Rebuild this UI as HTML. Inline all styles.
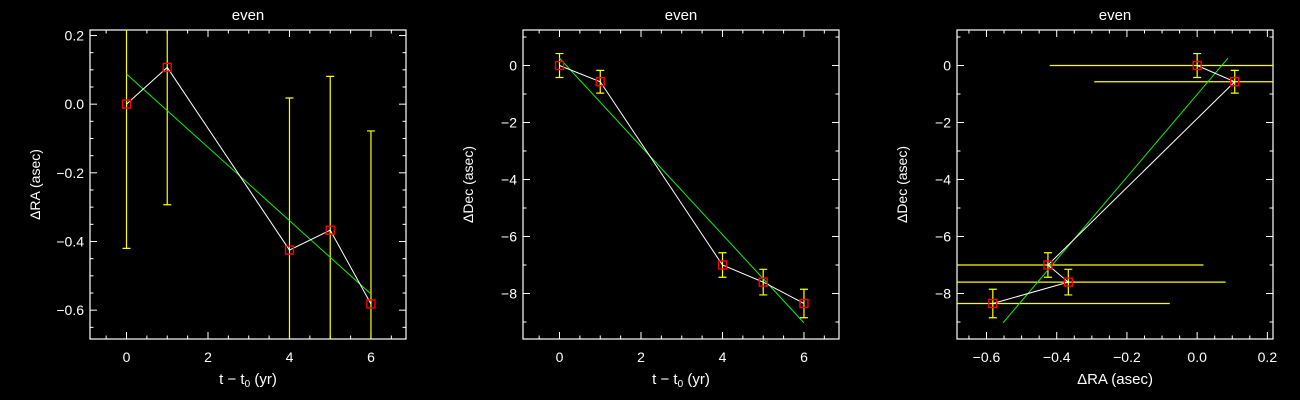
<!DOCTYPE html>
<html><head><meta charset="utf-8"><style>
html,body{margin:0;padding:0;background:#000;width:1300px;height:400px;overflow:hidden;}
svg{display:block;font-family:"Liberation Sans","DejaVu Sans",sans-serif;}
</style></head><body>
<svg id="c" width="1300" height="400"></svg>
<script>
const years=[0,1,4,5,6];
const dRA=[0,0.107,-0.425,-0.367,-0.582];
const dRAerr=[0.42,0.40,0.443,0.448,0.504];
const dDec=[0,-0.57,-7.0,-7.6,-8.35];
const dDecErr=[0.42,0.40,0.43,0.45,0.5];
const fitT=[0,6];
const fitRA=[0.088,-0.553];
const fitDec=[0.26,-9.03];
const raTicks=[-0.6,-0.4,-0.2,0.0,0.2];
const raLabels=["\u22120.6","\u22120.4","\u22120.2","0.0","0.2"];
const decTicks=[-8,-6,-4,-2,0];
const decLabels=["\u22128","\u22126","\u22124","\u22122","0"];
const tTicks=[0,2,4,6];
const tLabels=["0","2","4","6"];

const NS="http://www.w3.org/2000/svg";
const svg=document.getElementById('c');
function mk(tag,at,parent){const e=document.createElementNS(NS,tag);for(const k in at)e.setAttribute(k,at[k]);(parent||svg).appendChild(e);return e;}

const RAR=[-0.684,0.216], DECR=[-9.596,1.246], TR=[-0.896,6.86];
function panel(idx,x0,xr,yr,xt,xl,xminor,yt,yl,yminor,ylab,xlabHTML){
  const L=x0,R=x0+316,T=30,B=339;
  const g=mk('g',{});
  
  
  const sx=v=>L+(v-xr[0])/(xr[1]-xr[0])*(R-L);
  const sy=v=>B-(v-yr[0])/(yr[1]-yr[0])*(B-T);
  const clip=mk('clipPath',{id:'cl'+idx},g);
  mk('rect',{x:L,y:T,width:R-L,height:B-T},clip);
  const fr=mk('rect',{x:L,y:T,width:R-L,height:B-T,fill:'none',stroke:'#fff','stroke-width':1.2},g);
  
  const tg=mk('g',{stroke:'#fff','stroke-width':1},g);
  for(let v=Math.ceil(xr[0]/xminor)*xminor;v<=xr[1];v+=xminor){
    const maj=xt.some(t=>Math.abs(t-v)<1e-6);const len=maj?7:3.5;const x=sx(v);
    mk('line',{x1:x,y1:B,x2:x,y2:B-len},tg);mk('line',{x1:x,y1:T,x2:x,y2:T+len},tg);
  }
  for(let v=Math.ceil(yr[0]/yminor)*yminor;v<=yr[1];v+=yminor){
    const maj=yt.some(t=>Math.abs(t-v)<1e-6);const len=maj?7:3.5;const y=sy(v);
    mk('line',{x1:L,y1:y,x2:L+len,y2:y},tg);mk('line',{x1:R,y1:y,x2:R-len,y2:y},tg);
  }
  xt.forEach((v,i)=>{const t=mk('text',{x:sx(v),y:B+23,fill:'#fff','font-size':14,'text-anchor':'middle'},g);t.textContent=xl[i];
    });
  yt.forEach((v,i)=>{const t=mk('text',{x:L-6,y:sy(v)+5,fill:'#fff','font-size':14,'text-anchor':'end'},g);t.textContent=yl[i];
    });
  const ti=mk('text',{x:(L+R)/2,y:20,fill:'#fff','font-size':15,'text-anchor':'middle'},g);ti.textContent='even';
  
  const yx=L-50,ymid=(T+B)/2;
  const ya=mk('text',{x:yx,y:ymid,fill:'#fff','font-size':14,'text-anchor':'middle',transform:`rotate(-90 ${yx} ${ymid})`},g);ya.textContent=ylab;
  
  const xa=mk('text',{x:(L+R)/2,y:B+45,fill:'#fff','font-size':15,'text-anchor':'middle'},g);xa.innerHTML=xlabHTML;
  
  return {g,sx,sy,cp:'url(#cl'+idx+')'};
}
function series(p,xs,ys,xe,ye,fx,fy){
  const d=mk('g',{'clip-path':p.cp},p.g);
  
  xs.forEach((x,i)=>{
    const X=p.sx(x),Y=p.sy(ys[i]);
    if(ye){const a=p.sy(ys[i]+ye[i]),b=p.sy(ys[i]-ye[i]);
      const e=mk('path',{d:`M${X},${a}V${b}M${X-4},${a}h8M${X-4},${b}h8`,stroke:'#ff0',fill:'none','stroke-width':1.2},d);
      }
    if(xe){const a=p.sx(x-xe[i]),b=p.sx(x+xe[i]);
      const e=mk('line',{x1:a,y1:Y,x2:b,y2:Y,stroke:'#ff0','stroke-width':1.2},d);
      }
  });
  const f=mk('line',{x1:p.sx(fx[0]),y1:p.sy(fy[0]),x2:p.sx(fx[1]),y2:p.sy(fy[1]),stroke:'#1e1','stroke-width':1},d);
  
  const pl=mk('polyline',{points:xs.map((x,i)=>p.sx(x)+','+p.sy(ys[i])).join(' '),stroke:'#fff',fill:'none','stroke-width':1},d);
  
  xs.forEach((x,i)=>{
    const r=mk('rect',{x:p.sx(x)-4,y:p.sy(ys[i])-4,width:8,height:8,fill:'none',stroke:'#f00','stroke-width':1.4},d);
    
  });
}
const tlab='t \u2212 t<tspan font-size="10" dy="3">0</tspan><tspan dy="-3"> (yr)</tspan>';
const p1=panel(1,90,TR,RAR,tTicks,tLabels,0.5,raTicks,raLabels,0.05,'\u0394RA (asec)',tlab);
series(p1,years,dRA,null,dRAerr,fitT,fitRA);
const p2=panel(2,523,TR,DECR,tTicks,tLabels,0.5,decTicks,decLabels,1,'\u0394Dec (asec)',tlab);
series(p2,years,dDec,null,dDecErr,fitT,fitDec);
const p3=panel(3,957,RAR,DECR,raTicks,raLabels,0.05,decTicks,decLabels,1,'\u0394Dec (asec)','\u0394RA (asec)');
series(p3,dRA,dDec,dRAerr,dDecErr,fitRA,fitDec);
</script>
</body></html>
